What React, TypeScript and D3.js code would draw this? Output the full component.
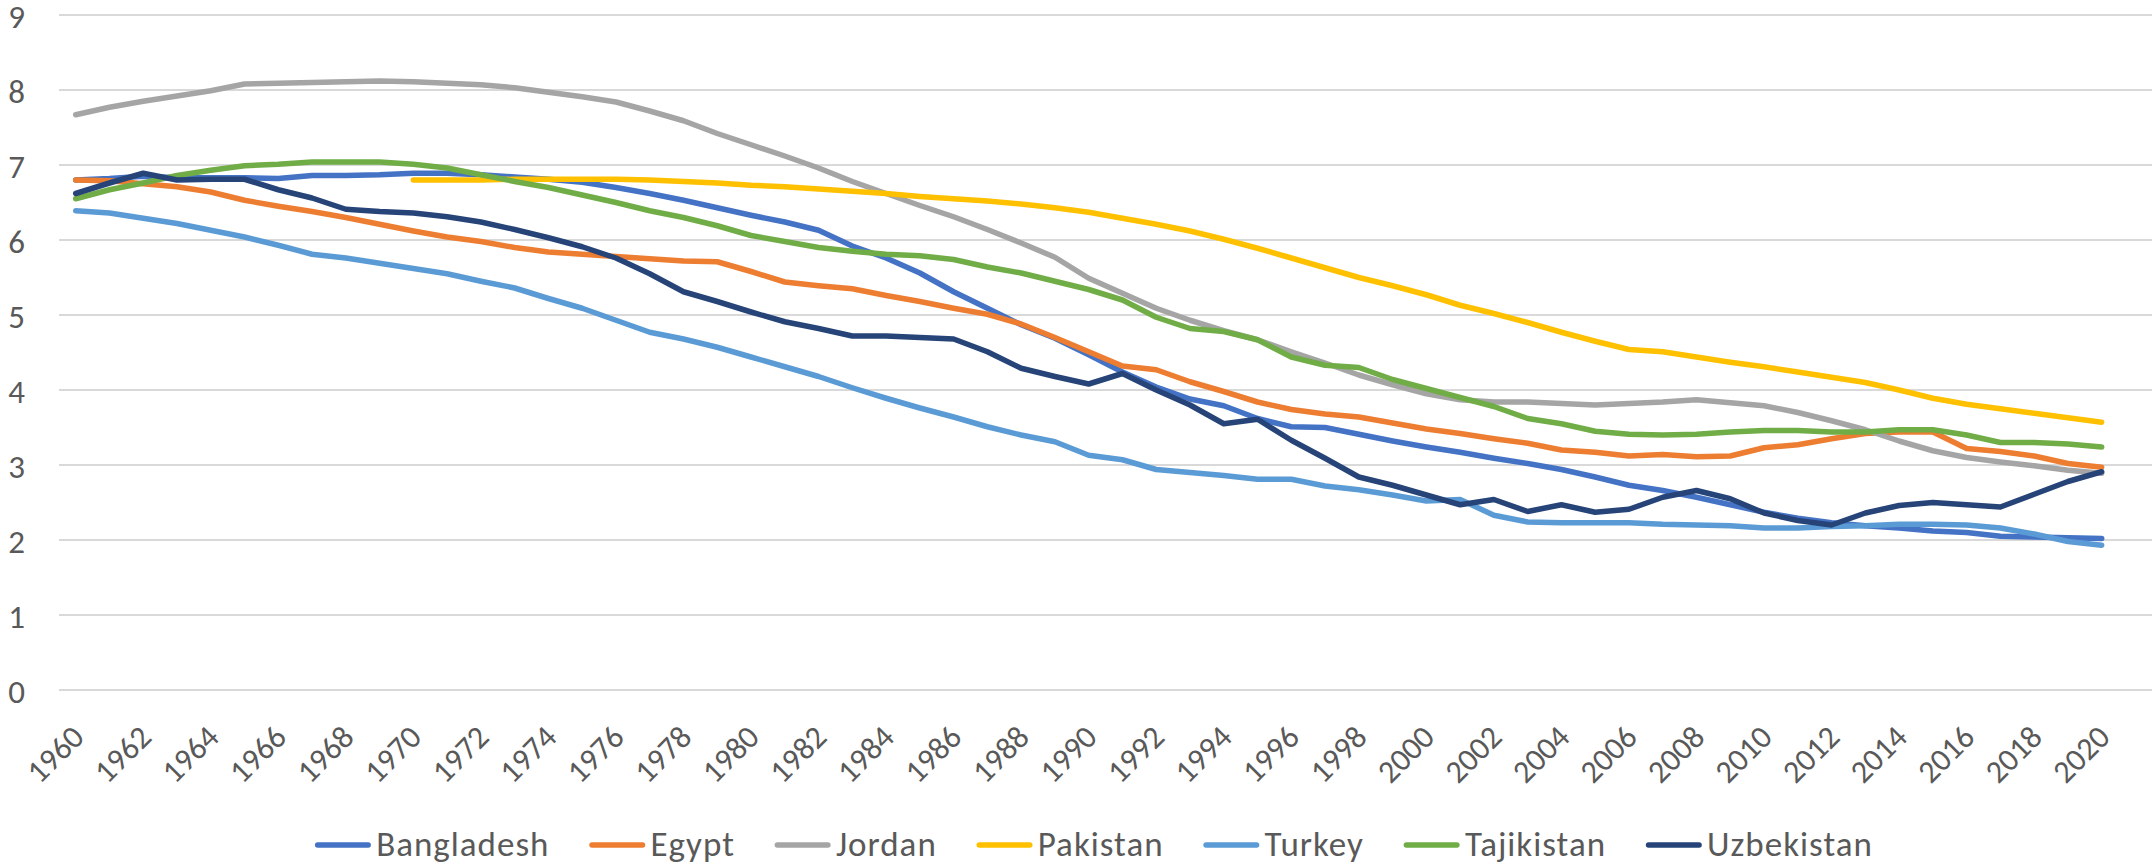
import React, { useEffect, useRef } from 'react';
import * as d3 from 'd3';

const years = d3.range(1960, 2021);

const seriesNames = ['Bangladesh', 'Egypt', 'Jordan', 'Pakistan', 'Turkey', 'Tajikistan', 'Uzbekistan'];
const seriesColors = ['#4472C4', '#ED7D31', '#A5A5A5', '#FFC000', '#5B9BD5', '#70AD47', '#264478'];

const bangladesh = [
  6.80, 6.82, 6.85, 6.83, 6.83, 6.83, 6.82, 6.86, 6.86, 6.87,
  6.89, 6.89, 6.87, 6.84, 6.81, 6.77, 6.70, 6.62, 6.53, 6.43,
  6.33, 6.24, 6.13, 5.92, 5.76, 5.56, 5.31, 5.09, 4.87, 4.69,
  4.47, 4.24, 4.04, 3.88, 3.79, 3.62, 3.51, 3.50, 3.41, 3.32,
  3.24, 3.17, 3.09, 3.02, 2.94, 2.84, 2.73, 2.66, 2.57, 2.47,
  2.37, 2.29, 2.23, 2.19, 2.16, 2.12, 2.10, 2.05, 2.04, 2.03,
  2.02,
];
const egypt = [
  6.80, 6.79, 6.75, 6.71, 6.64, 6.53, 6.45, 6.38, 6.30, 6.21,
  6.12, 6.04, 5.98, 5.90, 5.84, 5.81, 5.78, 5.75, 5.72, 5.71,
  5.58, 5.44, 5.39, 5.35, 5.26, 5.18, 5.09, 5.01, 4.88, 4.70,
  4.51, 4.32, 4.27, 4.11, 3.98, 3.84, 3.74, 3.68, 3.64, 3.56,
  3.48, 3.42, 3.35, 3.29, 3.20, 3.17, 3.12, 3.14, 3.11, 3.12,
  3.23, 3.27, 3.35, 3.42, 3.44, 3.44, 3.22, 3.18, 3.12, 3.02,
  2.97,
];
const jordan = [
  7.67, 7.77, 7.85, 7.92, 7.99, 8.08, 8.09, 8.10, 8.11, 8.12,
  8.11, 8.09, 8.07, 8.03, 7.97, 7.91, 7.84, 7.72, 7.59, 7.42,
  7.27, 7.12, 6.96, 6.78, 6.62, 6.46, 6.31, 6.14, 5.96, 5.77,
  5.49, 5.29, 5.09, 4.93, 4.79, 4.67, 4.51, 4.36, 4.20, 4.07,
  3.95, 3.87, 3.84, 3.84, 3.82, 3.80, 3.82, 3.84, 3.87, 3.83,
  3.79, 3.70, 3.59, 3.47, 3.32, 3.19, 3.10, 3.04, 2.99, 2.93,
  2.89,
];
const pakistan = [
  null, null, null, null, null, null, null, null, null, null,
  6.80, 6.80, 6.80, 6.81, 6.81, 6.81, 6.81, 6.80, 6.78, 6.76,
  6.73, 6.71, 6.68, 6.65, 6.62, 6.58, 6.55, 6.52, 6.48, 6.43,
  6.37, 6.29, 6.21, 6.12, 6.01, 5.89, 5.76, 5.63, 5.50, 5.39,
  5.27, 5.13, 5.02, 4.90, 4.77, 4.65, 4.54, 4.51, 4.44, 4.37,
  4.31, 4.24, 4.17, 4.10, 4.00, 3.89, 3.81, 3.75, 3.69, 3.63,
  3.57,
];
const turkey = [
  6.39, 6.36, 6.29, 6.22, 6.13, 6.04, 5.93, 5.81, 5.76, 5.69,
  5.62, 5.55, 5.45, 5.36, 5.22, 5.09, 4.93, 4.77, 4.68, 4.57,
  4.44, 4.31, 4.18, 4.03, 3.89, 3.76, 3.64, 3.51, 3.40, 3.31,
  3.13, 3.07, 2.94, 2.90, 2.86, 2.81, 2.81, 2.72, 2.67, 2.60,
  2.52, 2.54, 2.33, 2.24, 2.23, 2.23, 2.23, 2.21, 2.20, 2.19,
  2.16, 2.16, 2.18, 2.19, 2.21, 2.21, 2.20, 2.16, 2.08, 1.98,
  1.93,
];
const tajikistan = [
  6.55, 6.67, 6.76, 6.86, 6.93, 6.99, 7.01, 7.04, 7.04, 7.04,
  7.01, 6.96, 6.87, 6.78, 6.70, 6.60, 6.50, 6.39, 6.30, 6.19,
  6.06, 5.98, 5.90, 5.85, 5.81, 5.79, 5.74, 5.64, 5.56, 5.45,
  5.34, 5.20, 4.97, 4.82, 4.78, 4.67, 4.44, 4.33, 4.30, 4.14,
  4.02, 3.90, 3.78, 3.62, 3.55, 3.45, 3.41, 3.40, 3.41, 3.44,
  3.46, 3.46, 3.44, 3.44, 3.47, 3.47, 3.40, 3.30, 3.30, 3.28,
  3.24,
];
const uzbekistan = [
  6.62, 6.76, 6.89, 6.80, 6.81, 6.81, 6.67, 6.56, 6.41, 6.38,
  6.36, 6.31, 6.24, 6.14, 6.03, 5.91, 5.76, 5.55, 5.31, 5.18,
  5.04, 4.91, 4.82, 4.72, 4.72, 4.70, 4.68, 4.51, 4.29, 4.18,
  4.08, 4.22, 4.00, 3.80, 3.55, 3.61, 3.33, 3.09, 2.84, 2.73,
  2.60, 2.47, 2.54, 2.38, 2.47, 2.37, 2.41, 2.57, 2.66, 2.55,
  2.36, 2.26, 2.20, 2.36, 2.46, 2.50, 2.47, 2.44, 2.61, 2.78,
  2.91,
];

const seriesValues = [bangladesh, egypt, jordan, pakistan, turkey, tajikistan, uzbekistan];
const yTicks = [0, 1, 2, 3, 4, 5, 6, 7, 8, 9];
const xTickYears = years.filter((y) => y % 2 === 0);

const W = 2154;
const H = 866;
const FONT = "Carlito, Calibri, Lato, 'Open Sans', sans-serif";
const TEXT = '#595959';

const App: React.FC = () => {
  const ref = useRef<SVGSVGElement>(null);

  useEffect(() => {
    const svg = d3.select(ref.current);
    svg.selectAll('*').remove();

    const x = d3.scalePoint<number>().domain(years).range([75.7, 2101.7]);
    const y = d3.scaleLinear().domain([0, 9]).range([690, 15]);

    // gridlines
    svg
      .append('g')
      .selectAll('line')
      .data(yTicks)
      .join('line')
      .attr('x1', 59)
      .attr('x2', 2152)
      .attr('y1', (d) => y(d))
      .attr('y2', (d) => y(d))
      .attr('stroke', '#D9D9D9')
      .attr('stroke-width', 2);

    // y labels
    svg
      .append('g')
      .selectAll('text')
      .data(yTicks)
      .join('text')
      .attr('x', 25)
      .attr('y', (d) => y(d))
      .attr('dy', '0.38em')
      .attr('text-anchor', 'end')
      .attr('font-family', FONT)
      .attr('font-size', 33)
      .attr('fill', TEXT)
      .text((d) => String(d));

    // x labels
    svg
      .append('g')
      .selectAll('text')
      .data(xTickYears)
      .join('text')
      .attr('transform', (d) => `translate(${x(d)! + 2}, 731) rotate(-45)`)
      .attr('dy', '0.35em')
      .attr('text-anchor', 'end')
      .attr('font-family', FONT)
      .attr('font-size', 32)
      .attr('fill', TEXT)
      .text((d) => String(d));

    // lines
    const line = d3
      .line<number | null>()
      .defined((d) => d !== null)
      .x((_, i) => x(years[i])!)
      .y((d) => y(d as number));

    svg
      .append('g')
      .selectAll('path')
      .data(seriesValues)
      .join('path')
      .attr('d', (d) => line(d))
      .attr('fill', 'none')
      .attr('stroke', (_, i) => seriesColors[i])
      .attr('stroke-width', 5.5)
      .attr('stroke-linejoin', 'round')
      .attr('stroke-linecap', 'round');

    // legend
    const legend = svg.append('g');
    const items = legend
      .selectAll('g')
      .data(seriesNames)
      .join('g');
    items
      .append('line')
      .attr('x1', 2.5)
      .attr('x2', 53)
      .attr('y1', 0)
      .attr('y2', 0)
      .attr('stroke', (_, i) => seriesColors[i])
      .attr('stroke-width', 5.5)
      .attr('stroke-linecap', 'round');
    items
      .append('text')
      .attr('x', 61)
      .attr('y', 11)
      .attr('font-family', FONT)
      .attr('font-size', 35)
      .attr('letter-spacing', 1)
      .attr('fill', TEXT)
      .text((d) => d);

    const layoutLegend = () => {
      let offset = 0;
      const offsets: number[] = [];
      items.each(function () {
        const t = d3.select(this).select('text').node() as SVGTextElement;
        offsets.push(offset);
        offset += 61 + t.getBBox().width + 40;
      });
      const total = offset - 40;
      const start = 1094 - total / 2;
      items.attr('transform', (_, i) => `translate(${start + offsets[i]}, 845)`);
    };
    layoutLegend();
    if (document.fonts && document.fonts.ready) {
      document.fonts.ready.then(layoutLegend);
    }
  }, []);

  return (
    <svg
      ref={ref}
      width={W}
      height={H}
      style={{ position: 'absolute', left: 0, top: 0, background: '#fff' }}
    />
  );
};

export default App;
